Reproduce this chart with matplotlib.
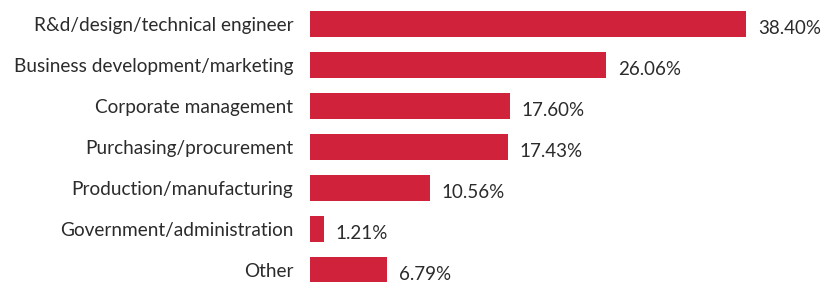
import matplotlib
matplotlib.use("Agg")
import matplotlib.pyplot as plt

# job function categories and shares (%)
categories = ["R&d/design/technical engineer", "Business development/marketing",
              "Corporate management", "Purchasing/procurement",
              "Production/manufacturing", "Government/administration", "Other"]
shares = [38.40, 26.06, 17.60, 17.43, 10.56, 1.21, 6.79]

plt.rcParams['font.family'] = ['Lato', 'DejaVu Sans']

fig = plt.figure(figsize=(8.28, 2.82), dpi=100)
ax = fig.add_axes([310 / 828, 0, 518 / 828, 1])

pos = list(range(len(categories)))
ax.barh(pos, shares, height=0.646, color="#D0233B")

for p, v in zip(pos, shares):
    ax.text(v + 1.05, p + 0.1, f"{v:.2f}%", va="center", ha="left",
            fontsize=13.5, color="#2b2b2b")

ax.set_xlim(0, 45.6)
ax.set_ylim(6.29, -0.585)
ax.set_yticks(pos)
ax.set_yticklabels(categories, fontsize=13.7, color="#2b2b2b")
ax.tick_params(axis="y", length=0, pad=12)
ax.set_xticks([])
for s in ax.spines.values():
    s.set_visible(False)

fig.savefig("out.png", dpi=100)
